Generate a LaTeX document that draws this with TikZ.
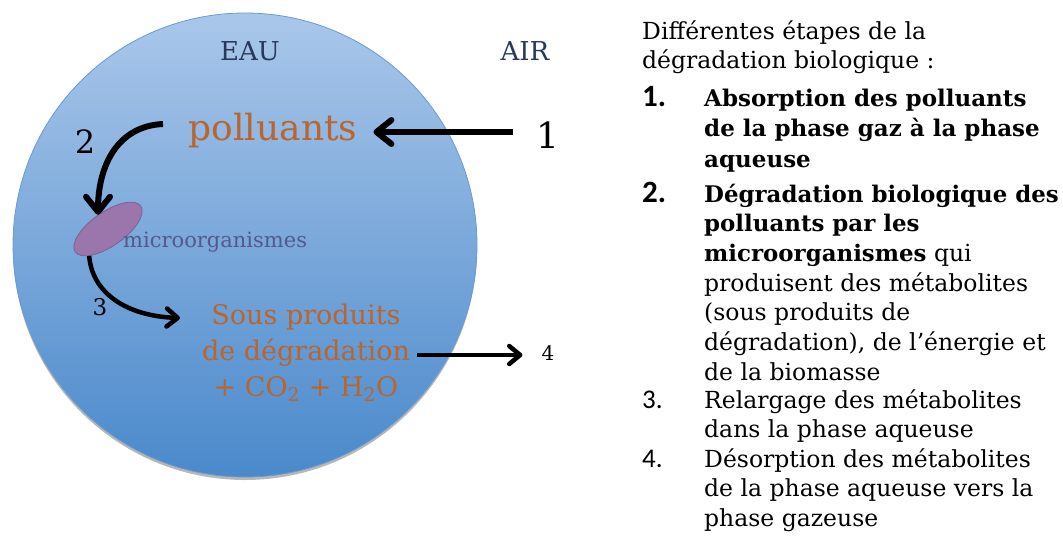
\documentclass[tikz,border=0pt]{standalone}
\usepackage{fontspec}
\setmainfont{DejaVu Serif}
\newfontfamily\numfont{Carlito}
\usetikzlibrary{shapes.geometric,arrows.meta,positioning,shadows}

\definecolor{eautop}{HTML}{AAC7EA}
\definecolor{eaubot}{HTML}{4A89CB}
\definecolor{eauline}{HTML}{6A9AD0}
\definecolor{rouille}{HTML}{B8652F}
\definecolor{marine}{HTML}{27385A}
\definecolor{mauve}{HTML}{9A76AC}
\definecolor{mauveline}{HTML}{7D6090}
\definecolor{microtxt}{HTML}{55588A}

\newcommand{\fs}[2]{\fontsize{#1}{#2}\selectfont}

% multi-line nodes sit on the baseline of their last line
\tikzset{
  water/.style={circle, minimum size=464pt, inner sep=0pt, draw=eauline, line width=0.8pt,
    top color=eautop, bottom color=eaubot,
    drop shadow={shadow xshift=0pt, shadow yshift=-3pt, opacity=0.4, fill=black!70}},
  cell/.style={ellipse, minimum width=80pt, minimum height=34pt, inner sep=0pt,
    draw=mauveline, line width=0.8pt, fill=mauve, rotate=35},
  phase/.style={text=marine, font=\fs{26}{30}, inner sep=0pt, anchor=base},
  species/.style={text=rouille, inner sep=0pt, align=center, anchor=base},
  label/.style={inner sep=0pt, anchor=base},
  stepnum/.style={inner sep=0pt, anchor=base west},
  steptxt/.style={inner sep=0pt, anchor=base west, align=left, font=\fs{23.5}{29.7}},
  fat/.style={line width=6pt, -{Straight Barb[length=15pt,width=24pt,line cap=round,line join=round]}},
  slim/.style={line width=4.5pt, -{Straight Barb[length=11pt,width=18pt,line cap=round,line join=round]}}
}

\begin{document}
\begin{tikzpicture}[x=1pt, y=-1pt]
  \useasboundingbox (0,0) rectangle (1063,549);

  % eau / air
  \node[water] (water) at (245,245) {};
  \node[phase] (eau) at (250,60) {EAU};
  \node[phase] (air) at (525,60) {AIR};

  % especes dans la goutte
  \node[species, font=\fs{36}{36}] (poll) at (273,140) {polluants};
  \node[cell] (micro) at (108,229) {};
  \node[text=microtxt, font=\fs{21}{21}, inner sep=0pt, anchor=base west] (microlbl) at (123,247) {microorganismes};
  \node[species, font=\fs{27}{36}] (sous) at (306,396) {Sous produits\\de dégradation\\+ CO\textsubscript{2} + H\textsubscript{2}O};

  % numeros des etapes
  \node[label, font=\fs{36}{36}] (n1) at (548,148) {1};
  \node[label, font=\fs{32}{32}] (n2) at (85,153) {2};
  \node[label, font=\fs{23}{23}] (n3) at (100,315) {3};
  \node[label, font=\fs{20}{20}] (n4) at (548,360) {4};

  % fleches
  \coordinate (a1) at (513,132);
  \coordinate (a2) at (163,124);
  \coordinate (a3) at (180,318);
  \coordinate (a4) at (417,355);
  \draw[fat]  (a1) -- ([xshift=16pt]a1 -| poll.east);
  \draw[fat]  (a2) .. controls (118,126) and (98,165) .. (micro.north);
  \draw[slim] (micro.200) .. controls (92,292) and (125,316) .. (a3);
  \draw[slim] (a4) -- ([xshift=-19pt]a4 -| n4.west);

  % legende
  \node[steptxt] (titre) at (642,68.7) {Différentes étapes de la\\dégradation biologique :};
  \node[stepnum, font=\numfont\bfseries\fs{31}{31}] (k1) at (642,106) {1.};
  \node[steptxt, font=\bfseries\fs{23}{30.5}] (e1) at (704,167) {Absorption des polluants\\de la phase gaz à la phase\\aqueuse};
  \node[stepnum, font=\numfont\bfseries\fs{31}{31}] (k2) at (642,202) {2.};
  \node[steptxt] (e2) at (704,380.2) {{\fs{22.9}{29.7}\bfseries Dégradation biologique des}\\{\fs{22.9}{29.7}\bfseries polluants par les}\\{\fs{22.9}{29.7}\bfseries microorganismes} qui\\produisent des métabolites\\(sous produits de\\dégradation), de l’énergie et\\de la biomasse};
  \node[stepnum, font=\numfont\fs{27}{27}] (k3) at (642,408) {3.};
  \node[steptxt] (e3) at (704,437.7) {Relargage des métabolites\\dans la phase aqueuse};
  \node[stepnum, font=\numfont\fs{27}{27}] (k4) at (642,467) {4.};
  \node[steptxt] (e4) at (704,526.4) {Désorption des métabolites\\de la phase aqueuse vers la\\phase gazeuse};
\end{tikzpicture}
\end{document}
